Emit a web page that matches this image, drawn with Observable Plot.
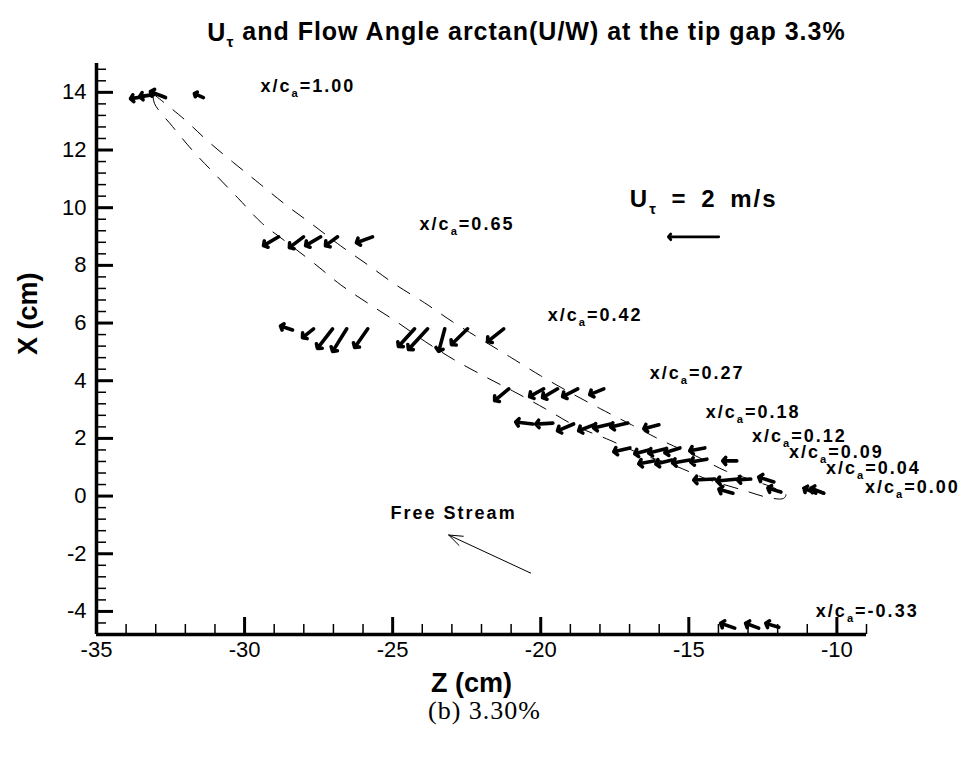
<!DOCTYPE html>
<html><head><meta charset="utf-8">
<script src="https://cdn.jsdelivr.net/npm/d3@7"></script>
<script src="https://cdn.jsdelivr.net/npm/@observablehq/plot@0.6"></script>
<style>body{margin:0;background:#fff}#chart{width:965px;height:761px}</style>
</head><body><div id="chart"></div>
<script>
// ---------- data ----------
const titleText = "U_{τ} and Flow Angle arctan(U/W) at the tip gap 3.3%";
const captionText = "(b) 3.30%";
const xLabel = "Z (cm)", yLabel = "X (cm)";
const xDomain = [-35, -9], yDomain = [-4.8, 15];
const xMajorTicks = [-35, -30, -25, -20, -15, -10];
const yMajorTicks = [-4, -2, 0, 2, 4, 6, 8, 10, 12, 14];

// vectors: station x/c_a, tail Z (cm), tail X (cm), W (m/s, along Z), U (m/s, along X)
const vecStation = [1.00,1.00,1.00,1.00, 0.65,0.65,0.65,0.65,0.65,
  0.42,0.42,0.42,0.42,0.42,0.42,0.42,0.42,0.42,0.42,
  0.27,0.27,0.27,0.27,0.27, 0.18,0.18,0.18,0.18,0.18,0.18,0.18,
  0.12,0.12,0.12,0.12,0.12, 0.09,0.09,0.09,0.09,0.09,
  0.04,0.04,0.04,0.04, 0.00,0.00,0.00,0.00, -0.33,-0.33,-0.33];
const vecZ = [-33.41,-33.07,-32.67,-31.39, -28.85,-28.01,-27.43,-26.86,-25.68,
  -28.38,-27.67,-27.03,-26.55,-25.84,-24.26,-23.82,-23.24,-22.47,-21.25,
  -21.08,-19.90,-19.43,-18.75,-17.87, -20.27,-19.59,-18.89,-18.21,-17.64,-17.06,-16.01,
  -16.99,-16.35,-15.81,-15.30,-14.46, -16.18,-15.57,-14.97,-14.39,-13.38,
  -14.12,-13.34,-12.91,-12.13, -13.51,-11.89,-10.71,-10.44, -13.45,-12.64,-11.96];
const vecX = [13.85,13.92,13.82,13.82, 8.99,8.99,8.99,8.99,8.99,
  5.76,5.80,5.80,5.80,5.80,5.80,5.80,5.80,5.80,5.80,
  3.72,3.72,3.72,3.72,3.72, 2.50,2.53,2.50,2.47,2.50,2.53,2.47,
  1.67,1.60,1.63,1.67,1.67, 1.22,1.25,1.25,1.28,1.22,
  0.59,0.59,0.59,0.49, 0.10,0.14,0.10,0.10, -4.58,-4.58,-4.55];
const vecW = [-0.52,-0.56,-0.60,-0.36, -0.60,-0.56,-0.60,-0.48,-0.64,
  -0.48,-0.44,-0.60,-0.56,-0.52,-0.64,-0.76,-0.24,-0.64,-0.64,
  -0.56,-0.56,-0.60,-0.60,-0.56, -0.68,-0.68,-0.64,-0.60,-0.68,-0.68,-0.60,
  -0.64,-0.56,-0.64,-0.60,-0.60, -0.60,-0.64,-0.68,-0.64,-0.56,
  -0.84,-0.84,-0.52,-0.60, -0.56,-0.52,-0.48,-0.52, -0.56,-0.52,-0.52];
const vecU = [-0.08,-0.08,0.24,0.16, -0.36,-0.44,-0.36,-0.36,-0.24,
  0.16,-0.36,-0.80,-0.92,-0.76,-0.72,-0.84,-0.92,-0.64,-0.52,
  -0.48,-0.32,-0.36,-0.32,-0.24, 0.08,-0.04,-0.28,-0.24,-0.16,-0.16,-0.16,
  -0.16,-0.16,-0.16,-0.20,-0.12, -0.12,-0.16,-0.12,-0.12,0.00,
  -0.04,-0.08,-0.04,0.20, 0.16,0.16,0.20,0.20, 0.20,0.20,0.16];

// reference vector (U_tau = 2 m/s)
const refZ = -13.99, refX = 8.99, refW = -2, refU = 0;
// free-stream direction arrow
const fsZ1 = -20.34, fsX1 = -2.67, fsZ2 = -23.11, fsX2 = -1.35;

// blade tip outline (dashed), closed loop TE -> LE (upper) -> TE (lower)
const bladeZ = [-33.10,-32.03,-31.22,-30.37,-29.49,-28.61,-27.70,-26.76,-25.84,-24.90,-23.92,-22.97,-21.99,-20.98,-20.00,-18.99,-17.97,-16.93,-15.88,-14.76,-13.75,-12.67,-12.05,-11.72,
  -11.80,-12.23,-13.18,-14.39,-15.44,-16.62,-17.67,-18.82,-19.83,-20.88,-21.86,-22.91,-23.89,-24.86,-25.81,-26.76,-27.64,-28.55,-29.43,-30.20,-30.95,-31.72,-32.43,-33.04,-33.10];
const bladeX = [13.96,13.06,12.29,11.56,10.83,10.10,9.41,8.68,8.02,7.33,6.70,6.04,5.42,4.79,4.17,3.58,3.02,2.47,1.91,1.39,0.87,0.49,0.25,0.05,
  -0.08,-0.07,0.21,0.59,1.04,1.46,1.94,2.43,3.02,3.61,4.13,4.72,5.35,6.04,6.67,7.33,8.06,8.78,9.48,10.31,11.11,11.94,12.81,13.61,13.96];

// station labels
const labelText = ["x/c_{a}=1.00","x/c_{a}=0.65","x/c_{a}=0.42","x/c_{a}=0.27","x/c_{a}=0.18","x/c_{a}=0.12","x/c_{a}=0.09","x/c_{a}=0.04","x/c_{a}=0.00","x/c_{a}=-0.33"];
const labelZ = [-29.46,-24.09,-19.76,-16.32,-14.43,-12.87,-11.62,-10.37,-9.05,-10.71];
const labelX = [14.20,9.41,6.28,4.27,2.92,2.08,1.53,0.97,0.31,-3.99];
const freeStreamLabel = {text: "Free Stream", z: -25.07, x: -0.59};
const refLabel = {text: "U_{τ} = 2 m/s", z: -16.99, x: 10.28};

// ---------- build ----------
const S = 0.85; // cm of plot per m/s
const vectors = vecZ.map((z, i) => ({station: vecStation[i], z, x: vecX[i], w: vecW[i], u: vecU[i]}));
const blade = bladeZ.map((z, i) => ({z, x: bladeX[i]}));
const labels = labelText.map((t, i) => ({t, z: labelZ[i], x: labelX[i]}));
const xMinorTicks = d3.range(-34, -8).filter(v => v % 5 !== 0);
const yMinorTicks = d3.range(-11, 38).filter(k => k % 5 !== 0).map(k => +(k * 0.4).toFixed(1));

const W = 965, H = 761, mL = 96, mR = 99, mT = 63, mB = 127;
const frameW = W - mL - mR, frameH = H - mT - mB;
const sans = "'Liberation Sans', Arial, Helvetica, sans-serif";

const chart = Plot.plot({
  width: W, height: H,
  marginLeft: mL, marginRight: mR, marginTop: mT, marginBottom: mB,
  x: {domain: xDomain, axis: null},
  y: {domain: yDomain, axis: null},
  style: {fontFamily: sans, background: "white", color: "black", overflow: "visible"},
  marks: [
    Plot.line(blade, {x: "z", y: "x", stroke: "black", strokeWidth: 1, strokeDasharray: "14,12", curve: "catmull-rom"}),
    Plot.arrow(vectors, {x1: "z", y1: "x", x2: d => d.z + d.w * S, y2: d => d.x + d.u * S,
      stroke: "black", strokeWidth: 3.6, headLength: 2, headAngle: 100}),
    Plot.arrow([{z: refZ, x: refX, w: refW, u: refU}], {x1: "z", y1: "x", x2: d => d.z + d.w * S, y2: d => d.x + d.u * S,
      stroke: "black", strokeWidth: 2.8, headLength: 2, headAngle: 100}),
    Plot.arrow([{z1: fsZ1, x1: fsX1, z2: fsZ2, x2: fsX2}], {x1: "z1", y1: "x1", x2: "z2", y2: "x2",
      stroke: "black", strokeWidth: 1, headLength: 22, headAngle: 40}),
    Plot.text(labels, {x: "z", y: "x", text: "t", textAnchor: "start", fontWeight: "bold", fontSize: 18}),
    Plot.text([freeStreamLabel], {x: "z", y: "x", text: "text", textAnchor: "start", fontWeight: "bold", fontSize: 18}),
    Plot.text([refLabel], {x: "z", y: "x", text: "text", textAnchor: "start", fontWeight: "bold", fontSize: 24}),
    // axes
    Plot.ruleX([xDomain[0]], {stroke: "black", strokeWidth: 3.5}),
    Plot.ruleY([yDomain[0]], {stroke: "black", strokeWidth: 3.5}),
    Plot.tickX(xMajorTicks, {x: d => d, insetTop: frameH - 17, stroke: "black", strokeWidth: 3}),
    Plot.tickX(xMinorTicks, {x: d => d, insetTop: frameH - 10, stroke: "black", strokeWidth: 1.5}),
    Plot.tickY(yMajorTicks, {y: d => d, insetRight: frameW - 17, stroke: "black", strokeWidth: 3}),
    Plot.tickY(yMinorTicks, {y: d => d, insetRight: frameW - 10, stroke: "black", strokeWidth: 1.5}),
    Plot.text(xMajorTicks, {x: d => d, frameAnchor: "bottom", lineAnchor: "middle", dy: 15, text: d => String(d), fontSize: 22}),
    Plot.text(yMajorTicks, {y: d => d, frameAnchor: "left", dx: -10, textAnchor: "end", text: d => String(d), fontSize: 22}),
    Plot.text([xLabel], {frameAnchor: "bottom", lineAnchor: "middle", dx: -10, dy: 49, text: d => d, fontSize: 27, fontWeight: "bold"}),
    Plot.text([yLabel], {frameAnchor: "left", dx: -68, dy: 6, rotate: -90, text: d => d, fontSize: 27, fontWeight: "bold"}),
    Plot.text([titleText], {frameAnchor: "top", lineAnchor: "middle", dx: 45, dy: -31, text: d => d, fontSize: 25, fontWeight: "bold"}),
    Plot.text([captionText], {frameAnchor: "bottom", lineAnchor: "middle", dx: 3, dy: 76, text: d => d, fontSize: 26,
      fontFamily: "'Liberation Serif', 'DejaVu Serif', serif"})
  ]
});

// Tecplot-like wide text spacing
chart.querySelectorAll("text").forEach(t => {
  const s = t.textContent;
  if (s.startsWith("x/c_{") || s === freeStreamLabel.text) t.style.letterSpacing = "2px";
  else if (s === refLabel.text) { t.style.letterSpacing = "2px"; t.style.wordSpacing = "5px"; }
  else if (s === titleText) t.style.letterSpacing = "1px";
  else if (s === captionText) t.style.letterSpacing = "1px";
});

// subscripts: "_{...}" -> tspan
const NS = "http://www.w3.org/2000/svg";
chart.querySelectorAll("text").forEach(t => {
  const s = t.textContent;
  if (!s.includes("_{")) return;
  const parts = s.split(/_\{([^}]*)\}/);
  while (t.firstChild) t.removeChild(t.firstChild);
  let shifted = false;
  parts.forEach((p, i) => {
    if (!p) return;
    const ts = document.createElementNS(NS, "tspan");
    ts.textContent = p;
    if (i % 2 === 1) {
      ts.setAttribute("font-size", "62%");
      ts.setAttribute("dy", "0.45em");
      shifted = true;
    } else if (shifted) {
      ts.setAttribute("dy", "-0.28em");
      shifted = false;
    }
    t.appendChild(ts);
  });
});

document.getElementById("chart").appendChild(chart);
</script></body></html>
